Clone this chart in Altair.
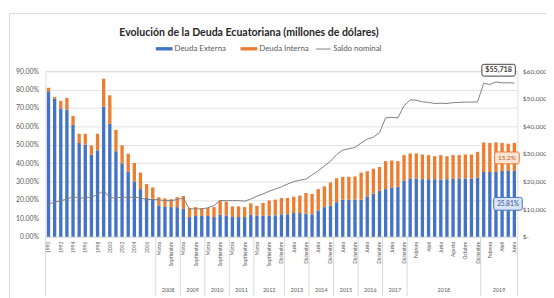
import altair as alt
import pandas as pd

# ---------------- data ----------------
anios = [str(a) for a in range(1990, 2008)]
trim = ["Marzo", "Junio", "Septiembre", "Diciembre"]
meses = ["Enero", "Febrero", "Marzo", "Abril", "Mayo", "Junio", "Julio",
         "Agosto", "Septiembre", "Octubre", "Noviembre", "Diciembre"]
periodos = (anios + trim * 4 + ["Marzo", "Junio", "Septiembre", "Noviembre", "Diciembre"]
            + trim * 5 + meses + meses[:6])
grupos = ([""] * 18 + ["2008"] * 4 + ["2009"] * 4 + ["2010"] * 4 + ["2011"] * 4
          + ["2012"] * 5 + ["2013"] * 4 + ["2014"] * 4 + ["2015"] * 4 + ["2016"] * 4
          + ["2017"] * 4 + ["2018"] * 12 + ["2019"] * 6)

externa = [79.1, 75.1, 69.8, 69.2, 60.8, 51.0, 50.1, 44.7, 47.0, 70.7, 61.4, 46.5, 39.9, 35.4, 30.1, 25.9, 21.1, 20.6,
           17.0, 16.5, 16.1, 16.1,
           15.2, 10.7, 11.3, 11.3,
           11.3, 10.7, 12.0, 11.6,
           10.7, 10.7, 10.7, 12.0,
           11.6, 11.3, 11.6, 11.6, 12.2,
           12.2, 12.9, 12.9, 12.5,
           12.2, 14.3, 16.1, 17.0,
           18.8, 20.2, 20.2, 20.2,
           20.2, 22.0, 23.5, 25.0,
           25.9, 26.8, 27.2, 30.4,
           31.7, 31.7, 31.3, 31.3, 31.3, 31.1, 31.3, 31.5, 31.7, 31.7, 31.7, 32.2,
           35.2, 35.2, 35.2, 35.8, 35.8, 35.81]
interna = [1.9, 0.9, 4.1, 6.3, 4.9, 5.0, 5.9, 4.9, 9.0, 15.2, 15.5, 11.6, 9.8, 9.7, 10.0, 9.0, 7.5, 6.2,
           4.5, 4.4, 4.3, 5.4,
           7.0, 5.0, 4.8, 4.3,
           4.3, 5.4, 7.7, 7.5,
           5.8, 5.8, 5.4, 6.2,
           5.2, 7.1, 8.1, 8.6, 8.9,
           8.9, 8.9, 9.5, 11.3,
           11.1, 11.6, 11.3, 12.5,
           13.0, 12.4, 12.4, 12.6,
           14.7, 13.6, 13.5, 12.9,
           15.2, 14.7, 13.9, 14.0,
           13.6, 13.6, 13.4, 13.1, 12.5, 13.3, 12.5, 12.9, 12.7, 13.0, 13.0, 14.0,
           16.1, 15.8, 16.1, 15.2, 14.8, 15.2]
saldo = [11900, 12500, 13100, 13600, 14600, 14000, 14100, 14300, 15300, 16700, 14100, 14100, 14300, 14300, 14300, 14100, 13500, 13500,
         13400, 13100, 13100, 13500,
         14000, 10100, 10100, 10100,
         10500, 11300, 13100, 13100,
         13100, 13100, 12900, 13700,
         14700, 15500, 16500, 17300, 18100,
         19100, 20000, 20500, 20900,
         22400, 23900, 25600, 27400,
         29800, 31400, 31900, 32400,
         34000, 35400, 36100, 37700,
         43100, 43300, 43100, 47500,
         49600, 49500, 48900, 48700, 48300, 48400, 48300, 48600, 48700, 48800, 48800, 48900,
         55600, 55200, 56100, 55800, 55800, 55718]

series = ["Deuda Externa", "Deuda Interna"]
colores = ["#4472c4", "#ed7d31"]
pct_ticks = [0, 10, 20, 30, 40, 50, 60, 70, 80, 90]
usd_ticks = [0, 10000, 20000, 30000, 40000, 50000, 60000]
titulo = "Evolución de la Deuda Ecuatoriana (millones de dólares)"

# ---------------- tables ----------------
n = len(periodos)
df = pd.DataFrame({"i": list(range(n)), "periodo": periodos, "grupo": grupos,
                   "externa": externa, "interna": interna, "saldo": saldo})
df["serie"] = "Saldo nominal"

bars = pd.concat([
    pd.DataFrame({"i": df.i, "serie": series[0], "y0": 0.0, "y1": df.externa}),
    pd.DataFrame({"i": df.i, "serie": series[1], "y0": df.externa, "y1": df.externa + df.interna}),
], ignore_index=True)

sub_lab = df[df.i % 2 == 0][["i", "periodo"]]
centros = df[df.grupo != ""].groupby("grupo", as_index=False)["i"].mean()
starts = [0] + [k for k in range(1, n) if grupos[k] != grupos[k - 1]]
seps = pd.DataFrame({"b": [s - 0.5 for s in starts] + [n - 0.5]})
last = df.tail(1).copy()
frame_df = pd.DataFrame({"k": [0]})

W, H = 479, 168
FONT = "Lato"
GRAY = "#595959"

xscale = alt.Scale(domain=[-0.5, n - 0.5], nice=False, zero=False)
pscale = alt.Scale(domain=[0, 90], nice=False, zero=True)
uscale = alt.Scale(domain=[0, 60000], nice=False, zero=True)


def rrect(h, r):
    return (f"M{-1 + r:.3f},{-h:.3f}H{1 - r:.3f}Q1,{-h:.3f} 1,{-h + r:.3f}V{h - r:.3f}"
            f"Q1,{h:.3f} {1 - r:.3f},{h:.3f}H{-1 + r:.3f}Q-1,{h:.3f} -1,{h - r:.3f}"
            f"V{-h + r:.3f}Q-1,{-h:.3f} {-1 + r:.3f},{-h:.3f}Z")


def xnone(f):
    return alt.X(f, scale=xscale, axis=None)


# ---------------- chart frame (light border like the spreadsheet chart area) ----------------
frame_top = alt.Chart(frame_df).mark_rule(color="#d9d9d9", strokeWidth=1).encode(
    x=alt.value(-36.5), x2=alt.value(W + 40), y=alt.value(-58.5))
frame_left = alt.Chart(frame_df).mark_rule(color="#d9d9d9", strokeWidth=1).encode(
    x=alt.value(-36.5), y=alt.value(-58.5), y2=alt.value(H + 70))

# ---------------- layers (percent scale) ----------------
bar = alt.Chart(bars).transform_calculate(
    xa="datum.i - 0.27", xb="datum.i + 0.27"
).mark_bar().encode(
    x=alt.X("xa:Q", scale=xscale,
            axis=alt.Axis(labels=False, ticks=False, grid=False, domain=True,
                          domainColor="#d9d9d9", domainWidth=1, title=None)),
    x2="xb:Q",
    y=alt.Y("y0:Q", scale=pscale,
            axis=alt.Axis(orient="left", values=pct_ticks,
                          labelExpr="format(datum.value, '.2f') + '%'",
                          grid=True, gridColor="#d9d9d9", gridWidth=0.8,
                          domain=False, ticks=False, labelFontSize=7, labelFont=FONT,
                          labelColor=GRAY, labelPadding=7, title=None)),
    y2="y1:Q",
    fill=alt.Fill("serie:N", scale=alt.Scale(domain=series, range=colores),
                  legend=alt.Legend(title=None, orient="none", legendX=112, legendY=-31.5,
                                    direction="horizontal", symbolType="M-1,-0.2H1V0.2H-1Z",
                                    symbolSize=289, symbolStrokeWidth=0, labelFontSize=8,
                                    labelFont=FONT, labelColor=GRAY, labelOffset=2,
                                    columnPadding=14)),
)

sub = alt.Chart(sub_lab).mark_text(
    angle=270, align="right", baseline="middle", fontSize=5, font=FONT, color=GRAY
).encode(x=xnone("i:Q"), y=alt.value(H + 5), text="periodo:N")

yrs = alt.Chart(centros).mark_text(
    baseline="middle", fontSize=5.5, font=FONT, color=GRAY
).encode(x=xnone("i:Q"), y=alt.value(H + 54), text="grupo:N")

sep = alt.Chart(seps).mark_rule(color="#d9d9d9", strokeWidth=1).encode(
    x=xnone("b:Q"), y=alt.value(H), y2=alt.value(H + 60))

lab_int_box = alt.Chart(last).transform_calculate(
    ym="datum.externa + datum.interna / 2"
).mark_point(shape=rrect(0.48, 0.16), size=625, filled=True, fill="#fbe5d6",
             stroke="#ed7d31", strokeWidth=1, opacity=1, xOffset=-7.5, yOffset=1).encode(
    x=xnone("i:Q"), y=alt.Y("ym:Q", scale=pscale, axis=None))
lab_int_txt = alt.Chart(last).transform_calculate(
    ym="datum.externa + datum.interna / 2",
    t="format(datum.interna, '.1f') + '%'"
).mark_text(fontSize=6.5, font=FONT, color="#c55a11", dx=-7.5, dy=1).encode(
    x=xnone("i:Q"), y=alt.Y("ym:Q", scale=pscale, axis=None), text="t:N")

lab_ext_box = alt.Chart(last).transform_calculate(
    ym="datum.externa / 2"
).mark_point(shape=rrect(0.448, 0.14), size=841, filled=True, fill="#dae3f3",
             stroke="#4472c4", strokeWidth=1, opacity=1, xOffset=-6.5, yOffset=0).encode(
    x=xnone("i:Q"), y=alt.Y("ym:Q", scale=pscale, axis=None))
lab_ext_txt = alt.Chart(last).transform_calculate(
    ym="datum.externa / 2",
    t="format(datum.externa, '.2f') + '%'"
).mark_text(fontSize=6.7, font=FONT, color="#2f5597", dx=-6.5, dy=0).encode(
    x=xnone("i:Q"), y=alt.Y("ym:Q", scale=pscale, axis=None), text="t:N")

# ---------------- layers (dollar scale) ----------------
line = alt.Chart(df).mark_line(strokeWidth=1).encode(
    x=xnone("i:Q"),
    y=alt.Y("saldo:Q", scale=uscale,
            axis=alt.Axis(orient="right", values=usd_ticks,
                          labelExpr="datum.value == 0 ? '$-' : '$' + format(datum.value, ',')",
                          grid=False, domain=False, ticks=False, labelFontSize=6.6,
                          labelFont=FONT, labelColor=GRAY, labelPadding=5,
                          labelAlign="left", title=None)),
    stroke=alt.Stroke("serie:N", scale=alt.Scale(domain=["Saldo nominal"], range=["#7f7f7f"]),
                      legend=alt.Legend(title=None, orient="none", legendX=274, legendY=-30.5,
                                        symbolType="stroke", symbolSize=225,
                                        symbolStrokeWidth=1, labelFontSize=8, labelFont=FONT,
                                        labelColor=GRAY, labelOffset=2)),
)

usd_box = alt.Chart(last).mark_point(
    shape=rrect(0.353, 0.12), size=1156, filled=True, fill="white", stroke="#404040",
    strokeWidth=1, opacity=1, xOffset=-16, yOffset=-13
).encode(x=xnone("i:Q"), y=alt.Y("saldo:Q", scale=uscale, axis=None))
usd_txt = alt.Chart(last).mark_text(
    fontSize=7.3, font=FONT, fontWeight="bold", color="#404040", dx=-16, dy=-13
).encode(x=xnone("i:Q"), y=alt.Y("saldo:Q", scale=uscale, axis=None),
         text=alt.Text("saldo:Q", format="$,.0f"))

chart = alt.layer(
    frame_top, frame_left,
    sep, bar, sub, yrs, lab_int_box, lab_int_txt, lab_ext_box, lab_ext_txt,
    line, usd_box, usd_txt
).resolve_scale(y="independent").properties(
    width=W, height=H,
    title=alt.TitleParams(titulo, anchor="middle", frame="group", dx=-33, offset=-26,
                          fontSize=10.7, font=FONT, fontWeight="bold", color="#262626"),
    autosize=alt.AutoSizeParams(type="none"),
    padding={"left": 38, "top": 62, "right": 29, "bottom": 60},
).configure_view(stroke=None).configure(font=FONT, background="white")

chart.save("out.html", embed_options={"renderer": "svg", "actions": False})
